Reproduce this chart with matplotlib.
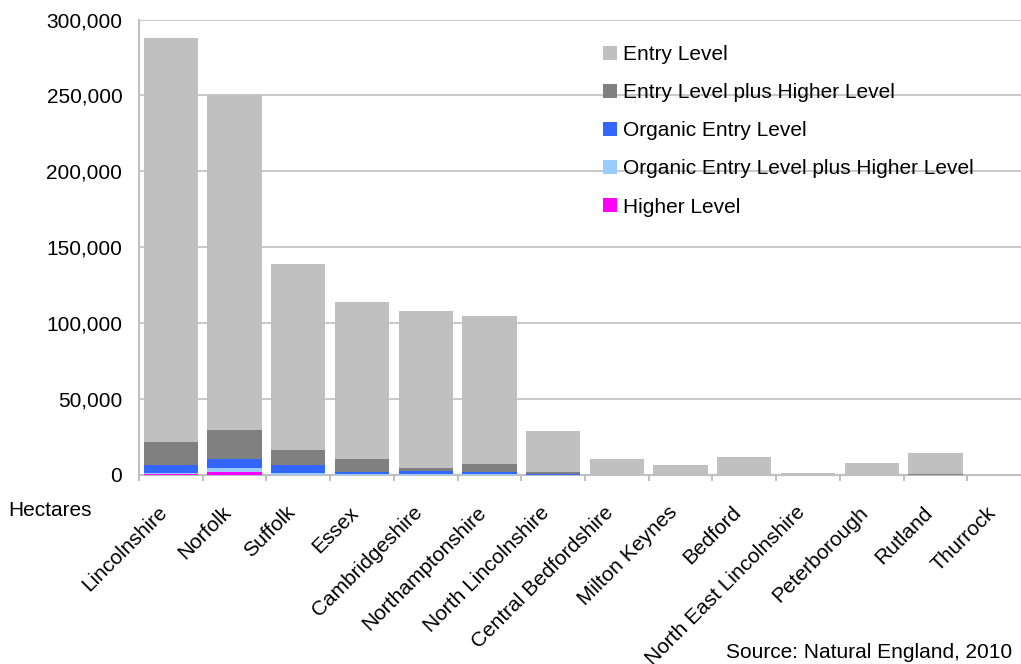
import matplotlib
matplotlib.use("Agg")
import matplotlib.pyplot as plt
import matplotlib.transforms as mtransforms
import numpy as np
from matplotlib.ticker import FuncFormatter, FixedLocator

plt.rcParams["font.family"] = ["Liberation Sans", "DejaVu Sans"]

regions = ["Lincolnshire", "Norfolk", "Suffolk", "Essex", "Cambridgeshire",
           "Northamptonshire", "North Lincolnshire", "Central Bedfordshire",
           "Milton Keynes", "Bedford", "North East Lincolnshire",
           "Peterborough", "Rutland", "Thurrock"]

# Hectares by scheme, stacked from the bottom up
higher_level = [700, 2000, 0, 0, 0, 0, 0, 0, 0, 0, 0, 0, 0, 0]
organic_el_plus_hl = [300, 2400, 1100, 700, 700, 700, 200, 0, 0, 0, 0, 0, 0, 0]
organic_entry_level = [5600, 5900, 5300, 1300, 2000, 1300, 500, 0, 0, 0, 0, 0, 0, 0]
entry_plus_higher = [15000, 19100, 9900, 8300, 1750, 5000, 1300, 0, 0, 0, 0, 0, 400, 0]
entry_level = [266400, 220600, 122700, 103700, 103600, 98000, 26800,
               10500, 6600, 11900, 1300, 7900, 14100, 700]

series = [
    ("Higher Level", higher_level, "#FF00FF"),
    ("Organic Entry Level plus Higher Level", organic_el_plus_hl, "#99CCFF"),
    ("Organic Entry Level", organic_entry_level, "#3366FF"),
    ("Entry Level plus Higher Level", entry_plus_higher, "#808080"),
    ("Entry Level", entry_level, "#C0C0C0"),
]

W, H = 1021, 664
fig = plt.figure(figsize=(W / 100, H / 100), dpi=100)
ax = fig.add_axes([139 / W, 1 - 475 / H, 892 / W, 455.5 / H])

x = np.arange(len(regions))
bottom = np.zeros(len(regions))
handles = {}
for name, vals, col in series:
    vals = np.array(vals, dtype=float)
    b = ax.bar(x, vals, width=0.85, bottom=bottom, color=col, label=name,
               zorder=3, linewidth=0)
    handles[name] = b
    bottom += vals

ax.set_xlim(-0.5, len(regions) - 0.5)
ax.set_ylim(0, 300000)
ax.set_yticks(np.arange(0, 300001, 50000))
ax.yaxis.set_major_formatter(FuncFormatter(lambda v, p: f"{int(v):,}"))
ax.tick_params(axis="y", length=0, pad=12, labelsize=15)
ax.grid(axis="y", color="#C0C0C0", linewidth=1.2, zorder=0)

ax.set_xticks(x)
ax.set_xticklabels(regions, rotation=45, ha="right", va="top",
                   rotation_mode="anchor", fontsize=15)
ax.tick_params(axis="x", which="major", length=0, pad=20)
shift = mtransforms.ScaledTranslation(-13 / 100, 0, fig.dpi_scale_trans)
for lab in ax.get_xticklabels():
    lab.set_transform(lab.get_transform() + shift)
ax.xaxis.set_minor_locator(FixedLocator(np.arange(-0.5, len(regions), 1.0)))
ax.tick_params(axis="x", which="minor", length=4, width=1.5, color="#C0C0C0")

for side in ("top", "right"):
    ax.spines[side].set_visible(False)
for side in ("left", "bottom"):
    ax.spines[side].set_color("#C0C0C0")
    ax.spines[side].set_linewidth(1.5)

order = ["Entry Level", "Entry Level plus Higher Level", "Organic Entry Level",
         "Organic Entry Level plus Higher Level", "Higher Level"]
ax.legend([handles[n] for n in order], order, loc="upper left",
          bbox_to_anchor=(603 / W, 1 - 45 / H), bbox_transform=fig.transFigure,
          frameon=False, fontsize=15, handlelength=0.65, handleheight=0.65,
          handletextpad=0.3, labelspacing=0.92, borderaxespad=0, borderpad=0)

fig.text(8 / W, 1 - 510 / H, "Hectares", fontsize=15, va="center", ha="left")
fig.text(1012 / W, 1 - 652 / H, "Source: Natural England, 2010", fontsize=15,
         va="center", ha="right")

fig.savefig("out.png", dpi=100)
